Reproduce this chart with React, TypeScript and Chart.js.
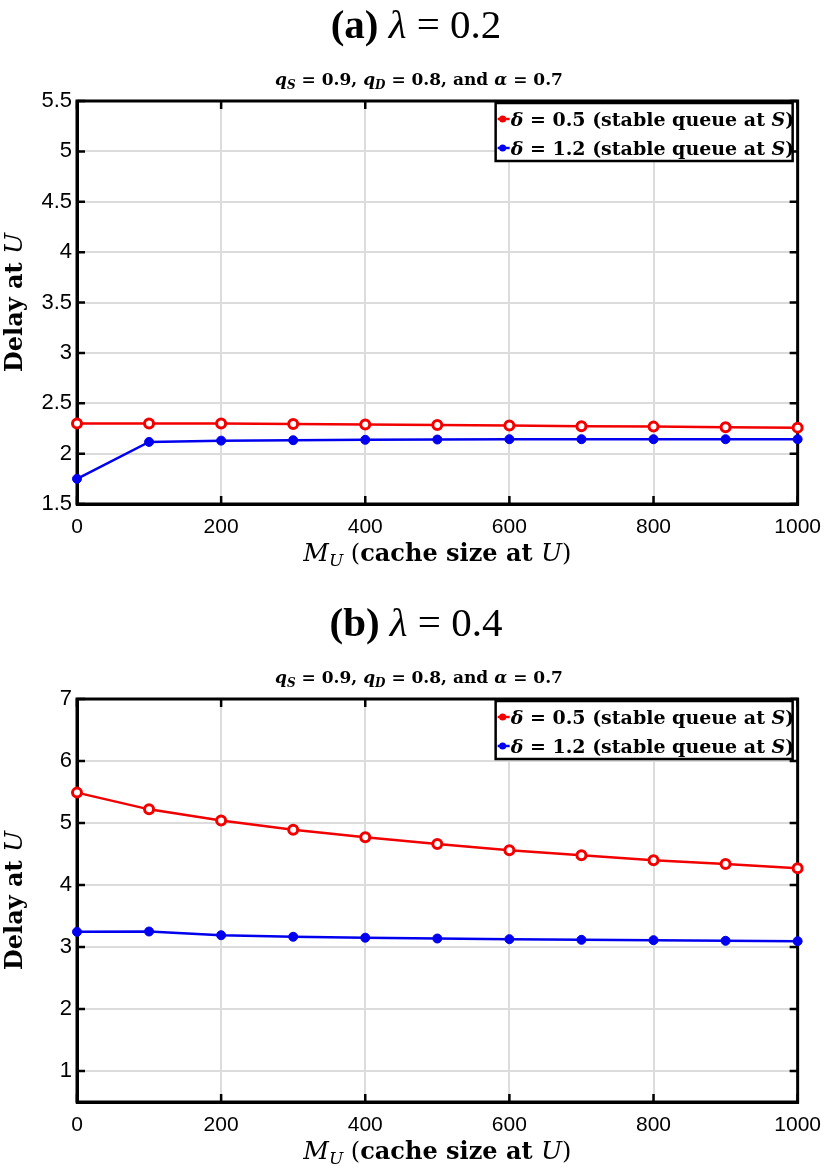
import React, { useEffect, useRef } from 'react';
import { Chart, registerables } from 'chart.js';
Chart.register(...registerables);

// ---- data ----
const M_U = [0, 100, 200, 300, 400, 500, 600, 700, 800, 900, 1000];
const X_TICKS = [0, 200, 400, 600, 800, 1000];

const DELAY_A_D05 = [2.3, 2.3, 2.3, 2.295, 2.29, 2.285, 2.278, 2.272, 2.268, 2.262, 2.258];
const DELAY_A_D12 = [1.75, 2.116, 2.129, 2.133, 2.137, 2.14, 2.143, 2.143, 2.143, 2.143, 2.143];
const Y_TICKS_A = [1.5, 2, 2.5, 3, 3.5, 4, 4.5, 5, 5.5];

const DELAY_B_D05 = [5.49, 5.22, 5.04, 4.89, 4.77, 4.66, 4.56, 4.48, 4.4, 4.34, 4.27];
const DELAY_B_D12 = [3.245, 3.25, 3.19, 3.165, 3.15, 3.137, 3.126, 3.116, 3.11, 3.1, 3.094];
const Y_TICKS_B = [1, 2, 3, 4, 5, 6, 7];

const DELTAS = ['0.5', '1.2'];
const COLORS = ['#f20000', '#0000ee'];

const SERIF = '"Liberation Serif", "DejaVu Serif", serif';
const DSERIF = '"DejaVu Serif", "Liberation Serif", serif';
const SANS = '"Liberation Sans", Arial, sans-serif';

type Seg = { t: string; f: string; dy?: number };

function drawRich(ctx: CanvasRenderingContext2D, segs: Seg[], x: number, y: number, align: 'left' | 'center') {
  ctx.save();
  ctx.textBaseline = 'alphabetic';
  ctx.textAlign = 'left';
  ctx.fillStyle = '#000';
  let w = 0;
  for (const s of segs) {
    ctx.font = s.f;
    w += ctx.measureText(s.t).width;
  }
  let cx = align === 'center' ? x - w / 2 : x;
  for (const s of segs) {
    ctx.font = s.f;
    ctx.fillText(s.t, cx, y + (s.dy || 0));
    cx += ctx.measureText(s.t).width;
  }
  ctx.restore();
  return w;
}

type PanelProps = {
  letter: string;
  lambda: string;
  d05: number[];
  d12: number[];
  yMin: number;
  yMax: number;
  yTicks: number[];
  areaTop: number;
  areaBottom: number;
  top: number;
};

const W = 832;
const H = 585;
const AREA_LEFT = 77;
const AREA_RIGHT = 800;
const X_AXIS_H = 50;

function Panel(p: PanelProps) {
  const ref = useRef<HTMLCanvasElement>(null);
  useEffect(() => {
    const canvas = ref.current!;
    const decor = {
      id: 'decor',
      beforeDatasetsDraw(chart: any) {
        const ctx = chart.ctx as CanvasRenderingContext2D;
        const ca = chart.chartArea;
        const xs = chart.scales.x;
        const ys = chart.scales.y;
        ctx.save();
        ctx.strokeStyle = '#000';
        ctx.lineWidth = 2.5;
        const tl = 8;
        for (const v of X_TICKS) {
          const px = xs.getPixelForValue(v);
          ctx.beginPath();
          ctx.moveTo(px, ca.bottom);
          ctx.lineTo(px, ca.bottom - tl);
          ctx.moveTo(px, ca.top);
          ctx.lineTo(px, ca.top + tl);
          ctx.stroke();
        }
        for (const v of p.yTicks) {
          const py = ys.getPixelForValue(v);
          ctx.beginPath();
          ctx.moveTo(ca.left, py);
          ctx.lineTo(ca.left + tl, py);
          ctx.moveTo(ca.right, py);
          ctx.lineTo(ca.right - tl, py);
          ctx.stroke();
        }
        ctx.lineWidth = 3;
        ctx.strokeRect(ca.left, ca.top, ca.right - ca.left, ca.bottom - ca.top);
        ctx.restore();
      },
      afterDatasetsDraw(chart: any) {
        const ctx = chart.ctx as CanvasRenderingContext2D;
        const ca = chart.chartArea;
        // legend
        const bw = 297;
        const bh = 58;
        const bx = ca.right - 302;
        const by = ca.top + 2;
        ctx.save();
        ctx.fillStyle = '#fff';
        ctx.fillRect(bx, by, bw, bh);
        ctx.strokeStyle = '#000';
        ctx.lineWidth = 2.5;
        ctx.strokeRect(bx, by, bw, bh);
        const rows = [by + 16, by + 45];
        rows.forEach((ry, i) => {
          ctx.strokeStyle = COLORS[i];
          ctx.lineWidth = 2.5;
          ctx.beginPath();
          ctx.moveTo(bx + 2, ry);
          ctx.lineTo(bx + 14, ry);
          ctx.stroke();
          ctx.fillStyle = COLORS[i];
          ctx.beginPath();
          ctx.arc(bx + 7, ry, 3.5, 0, Math.PI * 2);
          ctx.fill();
          const f = 'bold 19px ' + DSERIF;
          const fi = 'italic bold 19px ' + DSERIF;
          drawRich(
            ctx,
            [
              { t: 'δ', f: fi },
              { t: ' = ' + DELTAS[i] + ' (stable queue at ', f },
              { t: 'S', f: fi },
              { t: ')', f },
            ],
            bx + 15,
            ry + 7,
            'left'
          );
        });
        ctx.restore();
      },
      afterDraw(chart: any) {
        const ctx = chart.ctx as CanvasRenderingContext2D;
        const ca = chart.chartArea;
        const cx = 416;
        // main title
        drawRich(
          ctx,
          [
            { t: '(' + p.letter + ')', f: 'bold 41px ' + SERIF },
            { t: ' ', f: '41px ' + SERIF },
            { t: 'λ', f: 'italic 41px ' + SERIF },
            { t: ' = ' + p.lambda, f: '41px ' + SERIF },
          ],
          cx,
          ca.top - 63,
          'center'
        );
        // subtitle
        const b = 'bold 17px ' + DSERIF;
        const bi = 'italic bold 17px ' + DSERIF;
        const sb = 'italic bold 12px ' + DSERIF;
        drawRich(
          ctx,
          [
            { t: 'q', f: bi },
            { t: 'S', f: sb, dy: 4 },
            { t: ' = 0.9, ', f: b },
            { t: 'q', f: bi },
            { t: 'D', f: sb, dy: 4 },
            { t: ' = 0.8, and ', f: b },
            { t: 'α', f: bi },
            { t: ' = 0.7', f: b },
          ],
          419,
          ca.top - 16,
          'center'
        );
        // x title
        const r = 'bold 24px ' + DSERIF;
        const pr = '24px ' + DSERIF;
        const it = 'italic 25px ' + DSERIF;
        drawRich(
          ctx,
          [
            { t: 'M', f: it },
            { t: 'U', f: 'italic 17px ' + DSERIF, dy: 5 },
            { t: ' (', f: pr },
            { t: 'cache size at ', f: r },
            { t: 'U', f: it },
            { t: ')', f: pr },
          ],
          (ca.left + ca.right) / 2,
          ca.bottom + 57,
          'center'
        );
        // y title
        ctx.save();
        ctx.translate(22, (ca.top + ca.bottom) / 2);
        ctx.rotate(-Math.PI / 2);
        drawRich(
          ctx,
          [
            { t: 'Delay at ', f: r },
            { t: 'U', f: it },
          ],
          0,
          0,
          'center'
        );
        ctx.restore();
      },
    };

    const mk = (vals: number[]) => M_U.map((x, i) => ({ x, y: vals[i] }));

    const chart = new Chart(canvas, {
      type: 'line',
      data: {
        datasets: [
          {
            label: 'δ = 0.5 (stable queue at S)',
            data: mk(p.d05),
            borderColor: COLORS[0],
            backgroundColor: '#fff',
            borderWidth: 2.5,
            pointRadius: 4.5,
            pointBorderWidth: 3,
            pointBackgroundColor: '#fff',
            pointBorderColor: COLORS[0],
            tension: 0,
            clip: false as any,
          },
          {
            label: 'δ = 1.2 (stable queue at S)',
            data: mk(p.d12),
            borderColor: COLORS[1],
            backgroundColor: COLORS[1],
            borderWidth: 2.5,
            pointRadius: 4.5,
            pointBorderWidth: 1,
            pointBackgroundColor: COLORS[1],
            pointBorderColor: COLORS[1],
            tension: 0,
            clip: false as any,
          },
        ],
      },
      options: {
        animation: false,
        responsive: false,
        events: [],
        layout: {
          padding: {
            left: 0,
            right: W - AREA_RIGHT,
            top: p.areaTop,
            bottom: H - p.areaBottom - X_AXIS_H,
          },
        },
        plugins: {
          legend: { display: false },
          tooltip: { enabled: false },
          title: { display: false },
        },
        scales: {
          x: {
            type: 'linear',
            min: 0,
            max: 1000,
            afterBuildTicks: (s: any) => {
              s.ticks = X_TICKS.map((v) => ({ value: v }));
            },
            afterFit: (s: any) => {
              s.height = X_AXIS_H;
            },
            grid: { color: '#dcdcdc', lineWidth: 2, drawTicks: false },
            border: { color: '#000', width: 3 },
            ticks: {
              color: '#000',
              font: { family: SANS, size: 21 },
              padding: 11,
              maxRotation: 0,
              autoSkip: false,
              callback: (v: any) => String(v),
            },
          },
          y: {
            type: 'linear',
            min: p.yMin,
            max: p.yMax,
            afterBuildTicks: (s: any) => {
              s.ticks = p.yTicks.map((v) => ({ value: v }));
            },
            afterFit: (s: any) => {
              s.width = AREA_LEFT;
            },
            grid: { color: '#dcdcdc', lineWidth: 2, drawTicks: false },
            border: { color: '#000', width: 3 },
            ticks: {
              color: '#000',
              font: { family: SANS, size: 22 },
              padding: 5,
              autoSkip: false,
              callback: (v: any) => String(v),
            },
          },
        },
      },
      plugins: [decor],
    } as any);
    return () => chart.destroy();
  }, []);
  return (
    <canvas
      ref={ref}
      width={W}
      height={H}
      style={{ position: 'absolute', left: 0, top: p.top, width: W, height: H }}
    />
  );
}

export default function App() {
  return (
    <div style={{ position: 'absolute', left: 0, top: 0, width: 832, height: 1170, overflow: 'hidden', background: '#fff' }}>
      <Panel
        letter="a"
        lambda="0.2"
        d05={DELAY_A_D05}
        d12={DELAY_A_D12}
        yMin={1.5}
        yMax={5.5}
        yTicks={Y_TICKS_A}
        areaTop={101}
        areaBottom={504}
        top={0}
      />
      <Panel
        letter="b"
        lambda="0.4"
        d05={DELAY_B_D05}
        d12={DELAY_B_D12}
        yMin={0.5}
        yMax={7}
        yTicks={Y_TICKS_B}
        areaTop={114}
        areaBottom={517}
        top={585}
      />
    </div>
  );
}
